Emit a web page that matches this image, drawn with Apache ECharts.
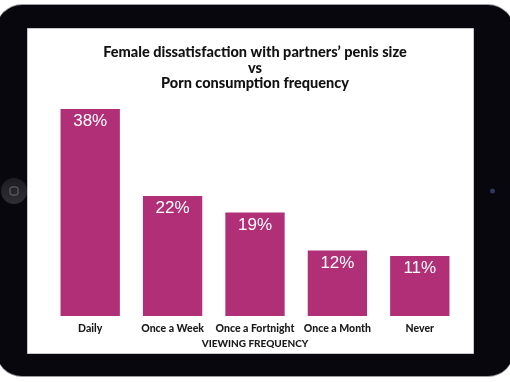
<!DOCTYPE html>
<html>
<head>
<meta charset="utf-8">
<script src="https://cdn.jsdelivr.net/npm/echarts@6/dist/echarts.min.js"></script>
<style>
html,body{margin:0;padding:0;background:#fff;}
#chart{width:510px;height:382px;}
</style>
</head>
<body>
<div id="chart"></div>
<script>
const titleLines = ["Female dissatisfaction with partners\u2019 penis size", "vs", "Porn consumption frequency"];
const categories = ["Daily", "Once a Week", "Once a Fortnight", "Once a Month", "Never"];
const values = [38, 22, 19, 12, 11];
const axisName = "VIEWING FREQUENCY";

const chart = echarts.init(document.getElementById('chart'), null, {renderer: 'canvas'});
chart.setOption({
  backgroundColor: '#ffffff',
  animation: false,
  graphic: [
    {type: 'rect', z: -10, shape: {x: -4, y: 4, width: 518, height: 373, r: 26}, style: {fill: '#9a9aa0'}},
    {type: 'rect', z: -9, shape: {x: -4, y: 5, width: 518, height: 371, r: 26}, style: {fill: '#07070d'}},
    {type: 'rect', z: -8, shape: {x: 27.5, y: 28.5, width: 446, height: 325}, style: {fill: '#ffffff', stroke: '#c8c8cc', lineWidth: 1}},
    {type: 'circle', z: -8, shape: {cx: 14, cy: 191, r: 13}, style: {fill: {type: 'linear', x: 0, y: 0, x2: 0, y2: 1, colorStops: [{offset: 0, color: '#1c1c22'}, {offset: 1, color: '#2e2e34'}]}}},
    {type: 'rect', z: -7, shape: {x: 10, y: 187, width: 8, height: 8, r: 2}, style: {fill: 'none', stroke: '#6a6a70', lineWidth: 1}},
    {type: 'circle', z: -8, shape: {cx: 492.5, cy: 191, r: 2.5}, style: {fill: '#30365a'}}
  ],
  title: {
    text: titleLines.join('\n'),
    left: 'center',
    top: 40,
    textStyle: {fontFamily: 'Lato', fontWeight: 900, fontSize: 14.5, lineHeight: 15.5, color: '#111111'}
  },
  grid: {left: 49, right: 49, top: 98, bottom: 66, containLabel: false},
  xAxis: {
    type: 'category',
    data: categories,
    axisLine: {show: false},
    axisTick: {show: false},
    axisLabel: {fontFamily: 'Lato', fontWeight: 900, fontSize: 10.5, color: '#1a1a1a', margin: 7, interval: 0},
    name: axisName,
    nameLocation: 'middle',
    nameGap: 23,
    nameTextStyle: {fontFamily: 'Lato', fontWeight: 900, fontSize: 10, color: '#1a1a1a'}
  },
  yAxis: {
    type: 'value',
    min: 0,
    max: 40,
    show: false,
    splitLine: {show: false}
  },
  series: [{
    type: 'bar',
    data: values,
    barCategoryGap: '28%',
    itemStyle: {color: '#b12f76'},
    label: {
      show: true,
      position: 'insideTop',
      distance: 4,
      formatter: '{c}%',
      color: '#ffffff',
      fontFamily: 'Liberation Sans',
      fontSize: 17
    }
  }]
});
</script>
</body>
</html>
